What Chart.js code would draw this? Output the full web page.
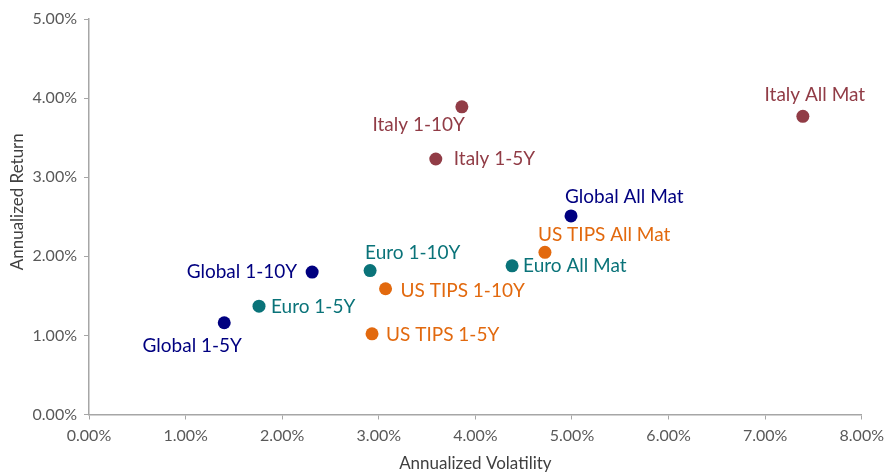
<!DOCTYPE html>
<html><head><meta charset="utf-8">
<script src="https://cdn.jsdelivr.net/npm/chart.js@4"></script>
<style>html,body{margin:0;padding:0;background:#fff}#wrap{width:891px;height:474px}</style>
</head><body><div id="wrap"><canvas id="c" width="891" height="474"></canvas></div>
<script>
const names = ["Italy All Mat","Italy 1-10Y","Italy 1-5Y","Global All Mat","US TIPS All Mat","Euro All Mat","Euro 1-10Y","Global 1-10Y","US TIPS 1-10Y","Euro 1-5Y","Global 1-5Y","US TIPS 1-5Y"];
const volatility = [7.39,3.86,3.59,4.99,4.72,4.38,2.91,2.31,3.07,1.76,1.40,2.93];
const returns = [3.77,3.89,3.23,2.51,2.05,1.88,1.82,1.80,1.59,1.37,1.16,1.02];
const groups = ["Italy","Italy","Italy","Global","US TIPS","Euro","Euro","Global","US TIPS","Euro","Global","US TIPS"];
const xTicks = [0,1,2,3,4,5,6,7,8];
const yTicks = [0,1,2,3,4,5];
const xTitle = "Annualized Volatility";
const yTitle = "Annualized Return";

const colors = {"Italy":"#913C46","Global":"#000080","Euro":"#0A7379","US TIPS":"#E2690E"};
// label placement: [dx, dy, align]
const placement = [[12,-21,"center"],[3,18,"right"],[18,0,"left"],[-6,-19,"left"],[-7,-17,"left"],[11,0,"left"],[-5,-18,"left"],[-15,0,"right"],[15,2,"left"],[12,1,"left"],[-32,23,"center"],[14,1,"left"]];

const labelPlugin = {
  id:'pointLabels',
  afterDatasetsDraw(chart){
    const ctx = chart.ctx;
    const meta = chart.getDatasetMeta(0);
    ctx.save();
    ctx.font = '19px Lato';
    ctx.textBaseline = 'middle';
    meta.data.forEach((pt,i)=>{
      const p = placement[i];
      ctx.fillStyle = colors[groups[i]];
      ctx.textAlign = p[2];
      ctx.fillText(names[i], pt.x + p[0], pt.y + p[1]);
    });
    // y axis title
    const ca = chart.chartArea;
    ctx.translate(18, (ca.top + ca.bottom)/2 - 15);
    ctx.rotate(-Math.PI/2);
    ctx.textAlign = 'center';
    ctx.fillStyle = '#404040';
    ctx.font = '17px Lato';
    ctx.fillText(yTitle, 0, 0);
    ctx.restore();
  }
};

const pct = v => v.toFixed(2) + '%';

new Chart(document.getElementById('c'), {
  type:'scatter',
  data:{datasets:[{
    data: volatility.map((v,i)=>({x:v,y:returns[i]})),
    pointRadius:6.5, pointHoverRadius:6.5,
    pointBackgroundColor: groups.map(g=>colors[g]),
    pointBorderWidth:0
  }]},
  options:{
    responsive:false, animation:false,
    plugins:{legend:{display:false},tooltip:{enabled:false}},
    layout:{padding:{left:0,right:27,top:19,bottom:0}},
    scales:{
      x:{type:'linear',min:0,max:8,
        afterBuildTicks(s){s.ticks = xTicks.map(v=>({value:v}));},
        afterFit(s){s.height = 59.5;},
        ticks:{callback:pct,color:'#595959',font:{family:'Lato',size:16},padding:7,maxRotation:0},
        grid:{display:true,drawOnChartArea:false,drawTicks:true,tickLength:5,color:'#A6A6A6'},
        border:{display:true,color:'#A6A6A6',width:1.5},
        title:{display:true,text:xTitle,color:'#404040',font:{family:'Lato',size:17},padding:{top:4,bottom:0}}
      },
      y:{type:'linear',min:0,max:5,
        afterBuildTicks(s){s.ticks = yTicks.map(v=>({value:v}));},
        afterFit(s){s.width = 89;},
        ticks:{callback:pct,color:'#595959',font:{family:'Lato',size:16},padding:7},
        grid:{display:true,drawOnChartArea:false,drawTicks:true,tickLength:5,color:'#A6A6A6'},
        border:{display:true,color:'#A6A6A6',width:1.5}
      }
    }
  },
  plugins:[labelPlugin]
});
</script></body></html>
